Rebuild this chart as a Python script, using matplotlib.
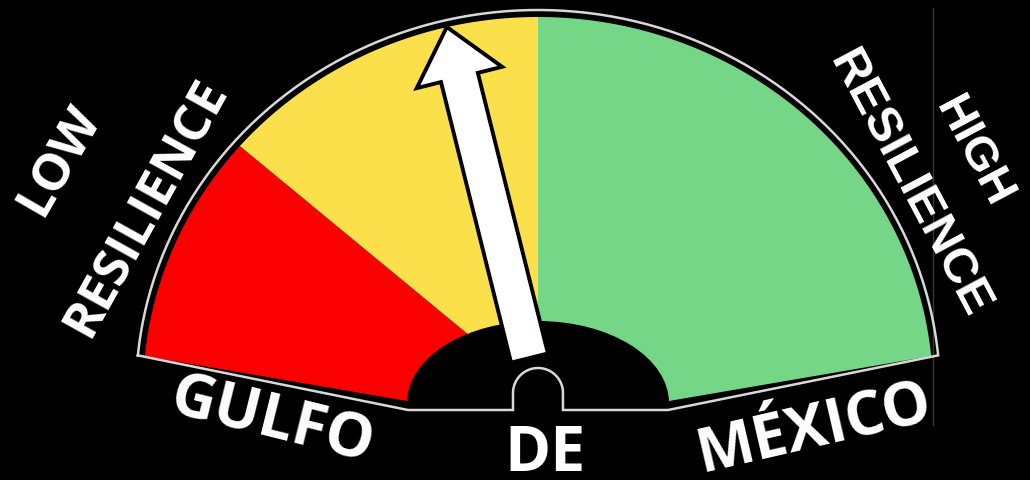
import numpy as np
import matplotlib
matplotlib.use('Agg')
import matplotlib.pyplot as plt
from matplotlib.patches import Polygon, Ellipse

# gauge data (0-100 scale)
zone_bounds = [0, 21, 50, 100]
zone_colors = ['#fa0000', '#fbe04b', '#75d687']
needle_value = 41.7

# text labels
left_label = ['LOW', 'RESILIENCE']
right_label = ['HIGH', 'RESILIENCE']
bottom_words = ['GULFO', 'DE', 'MÉXICO']

# geometry in pixels (y grows downward)
cx, cy = 538, 392
rx, ry = 395, 375
T0, T1 = 174.5, 5.5


def val2ang(v):
    return np.radians(T0 - v / 100.0 * (T0 - T1))


def arc(a0, a1, ax_r, ay_r, n=200):
    t = np.linspace(a0, a1, n)
    return np.column_stack([cx + ax_r * np.cos(t), cy - ay_r * np.sin(t)])


fig = plt.figure(figsize=(10.3, 4.8), dpi=100, facecolor='black')
ax = fig.add_axes([0, 0, 1, 1])
ax.set_facecolor('black')
ax.set_xlim(0, 1030)
ax.set_ylim(480, 0)
ax.axis('off')

# clip shape for coloured zones
outer = arc(val2ang(0), val2ang(100), rx, ry)
clip_pts = np.vstack([outer, [[669, 401], [407, 401]]])
clip = Polygon(clip_pts, closed=True, facecolor='none', edgecolor='none')
ax.add_patch(clip)

for i in range(3):
    a0, a1 = val2ang(zone_bounds[i]), val2ang(zone_bounds[i + 1])
    # first and last zone run past the ends so the clip shape gives the bottom edge
    if i == 0:
        a0 += np.radians(25)
    if i == 2:
        a1 -= np.radians(25)
    pts = np.vstack([[[cx, cy]], arc(a0, a1, rx * 1.3, ry * 1.3)])
    wedge = Polygon(pts, closed=True, facecolor=zone_colors[i], edgecolor='none', zorder=2)
    ax.add_patch(wedge)
    wedge.set_clip_path(clip)

# black hub
ax.add_patch(Ellipse((538, 403), 262, 164, facecolor='black', edgecolor='none', zorder=3))

# white outline around the gauge
out_arc = arc(val2ang(0), val2ang(100), rx + 7, ry + 7)
bump = arc(np.pi, 0, 25, 25, 40)
bump[:, 1] += 1
line_pts = np.vstack([out_arc, [[668, 410], [563, 410]], bump[::-1], [[513, 410], [408, 410]], out_arc[:1]])
ax.plot(line_pts[:, 0], line_pts[:, 1], color='#d8d8d8', lw=1.8, zorder=4, solid_joinstyle='miter')

# faint vertical line at right
ax.plot([933, 933], [8, 425], color='#383838', lw=1, zorder=1)

# needle
a = val2ang(needle_value)
tip_r = np.hypot(rx * np.cos(a), ry * np.sin(a))
u = np.array([np.cos(a), -np.sin(a)])
nrm = np.array([u[1], -u[0]])
c = np.array([cx, cy])
s_base, s_head = 35, tip_r - 52
shaft_w, head_w = 19, 44
needle = [c + u * s_base + nrm * shaft_w,
          c + u * s_head + nrm * shaft_w,
          c + u * s_head + nrm * head_w,
          c + u * tip_r,
          c + u * s_head - nrm * head_w,
          c + u * s_head - nrm * shaft_w,
          c + u * s_base - nrm * shaft_w]
ax.add_patch(Polygon(needle, closed=True, facecolor='white', edgecolor='black', lw=2.8,
                     joinstyle='miter', zorder=5))

# labels
cal = dict(color='white', fontfamily='Open Sans', fontweight='bold',
           ha='center', va='center', rotation_mode='anchor')
ari = dict(color='white', fontfamily='Liberation Sans', fontweight='bold',
           ha='center', va='center', rotation_mode='anchor')
ax.text(60, 160, left_label[0], fontsize=37, rotation=60, **cal)
ax.text(146, 208, left_label[1], fontsize=37, rotation=61, **cal)
ax.text(973, 152, right_label[0], fontsize=34, rotation=-62, **ari)
ax.text(909, 184, right_label[1], fontsize=35.5, rotation=-62, **ari)
ax.text(272, 423, bottom_words[0], fontsize=44, rotation=-14, **cal)
ax.text(545, 471, bottom_words[1], fontsize=45, rotation=0, color='white',
        fontfamily='Open Sans', fontweight='bold', ha='center', va='baseline')
ax.text(814, 430, bottom_words[2], fontsize=44, rotation=13, **cal)

fig.savefig('out.png', dpi=100, facecolor='black')
